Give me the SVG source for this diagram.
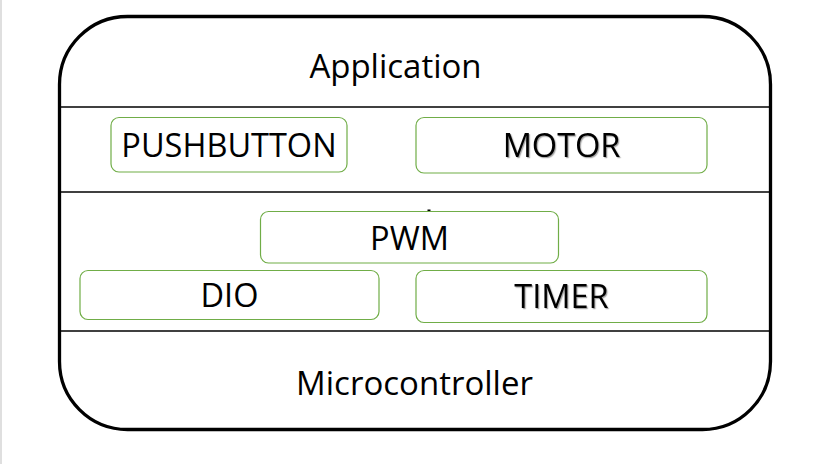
<svg xmlns="http://www.w3.org/2000/svg" width="830" height="464" viewBox="0 0 830 464">
<style>
.lbl{font-family:"Open Sans","Liberation Sans",sans-serif;font-size:32.5px;fill:#000;text-anchor:middle}
.big{font-size:33px}
.box{fill:#fff;stroke:#70ad47;stroke-width:1.2}
.sep{stroke:#000;stroke-width:1.4}
.sh{filter:url(#shadow)}
</style>
<defs>
<filter id="shadow" x="-10%" y="-20%" width="130%" height="150%">
<feDropShadow dx="1.2" dy="1.2" stdDeviation="0.6" flood-color="#000" flood-opacity="0.35"/>
</filter>
</defs>
<rect x="0" y="0" width="830" height="464" fill="#fff"/>
<line x1="1" y1="0" x2="1" y2="464" stroke="#d4d4d4" stroke-width="1.5"/>
<g id="frame">
<rect x="59.5" y="16.5" width="711" height="413" rx="68" ry="68" fill="#fff" stroke="#000" stroke-width="3.3"/>
</g>
<g id="connectors">
<line class="sep" x1="60" y1="107" x2="770" y2="107"/>
<line class="sep" x1="60" y1="192" x2="770" y2="192"/>
<line class="sep" x1="60" y1="331" x2="770" y2="331"/>
</g>
<g id="application">
<text class="lbl big" x="395.5" y="78">Application</text>
</g>
<g id="pushbutton">
<rect class="box" x="111" y="117.5" width="236" height="54.5" rx="8"/>
<text class="lbl" x="229" y="157">PUSHBUTTON</text>
</g>
<g id="motor">
<rect class="box" x="416" y="117.5" width="291" height="55.5" rx="8"/>
<text class="lbl sh" x="561.5" y="157">MOTOR</text>
</g>
<g id="pwm">
<rect class="box" x="260.5" y="211.5" width="298" height="51.5" rx="8"/>
<rect x="427.5" y="209.5" width="3" height="1.5" fill="#000"/>
<text class="lbl" x="409.5" y="250">PWM</text>
</g>
<g id="dio">
<rect class="box" x="80" y="270.5" width="299" height="49" rx="8"/>
<text class="lbl" x="229.5" y="307">DIO</text>
</g>
<g id="timer">
<rect class="box" x="416" y="270.5" width="291" height="52" rx="8"/>
<text class="lbl sh" x="561.5" y="308">TIMER</text>
</g>
<g id="microcontroller">
<text class="lbl big" x="414.5" y="395">Microcontroller</text>
</g>
</svg>
